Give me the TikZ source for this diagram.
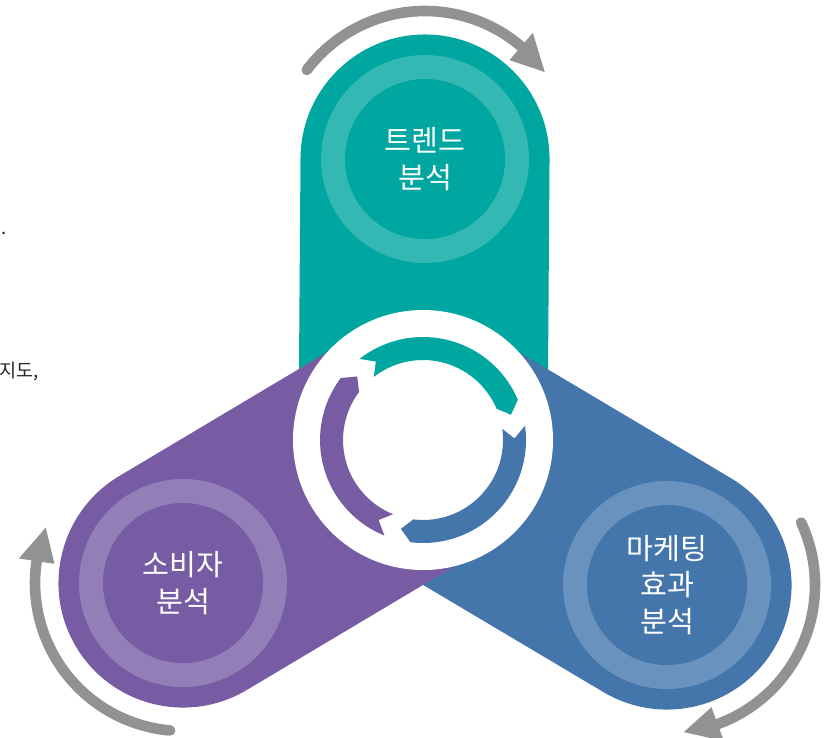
\documentclass[tikz,border=0pt]{standalone}
\usepackage{xcolor}
\usepackage{fontspec}
\setmainfont{Noto Sans CJK KR}
\usepackage{tikz}

\definecolor{trendcol}{HTML}{00A6A0}
\definecolor{trendlight}{HTML}{33B8B3}
\definecolor{consumercol}{HTML}{775CA4}
\definecolor{consumerlight}{HTML}{927FB8}
\definecolor{marketcol}{HTML}{4576AB}
\definecolor{marketlight}{HTML}{6A92BF}
\definecolor{cyclegray}{HTML}{929292}

\begin{document}
\begin{tikzpicture}[scale=0.2646]
\tikzstyle{every node}+=[inner sep=0pt]
\tikzstyle{arm}=[line width=187.5pt, line cap=round]
\tikzstyle{hub label}=[text=white, align=center, font=\fontsize{22}{27.5}\selectfont]
\tikzstyle{side text}=[text=black!85, font=\fontsize{14}{17}\selectfont]
\tikzstyle{cycle arrow}=[cyclegray, line width=8pt, line cap=round]
\useasboundingbox (0,0) rectangle (82.6,-73.8);
% centres
\coordinate (hub) at (42.3,-44.0);
\coordinate (trend) at (42.5,-15.9);
\coordinate (consumer) at (18.3,-58.3);
\coordinate (market) at (66.7,-58.5);
% arms
\draw [arm, trendcol] (hub) -- (trend);
\draw [arm, marketcol] (hub) -- (market);
\draw [arm, consumercol] (hub) -- (consumer);
% rings
\fill [trendlight] (trend) circle (10.4);
\fill [trendcol] (trend) circle (8.0);
\fill [consumerlight] (consumer) circle (10.4);
\fill [consumercol] (consumer) circle (8.0);
\fill [marketlight] (market) circle (10.4);
\fill [marketcol] (market) circle (8.0);
% hub
\fill [white] (hub) circle (13.0);
\begin{scope}[shift={(hub)}]
\fill [trendcol] (128:10.3) arc [start angle=128, end angle=23, radius=10.3] -- (16:9.15) -- (23:8.0) arc [start angle=23, end angle=128, radius=8.0] -- (121:9.15) -- cycle;
\fill [marketcol] (8:10.3) arc [start angle=8, end angle=-97, radius=10.3] -- (-104:9.15) -- (-97:8.0) arc [start angle=-97, end angle=8, radius=8.0] -- (1:9.15) -- cycle;
\fill [consumercol] (248:10.3) arc [start angle=248, end angle=143, radius=10.3] -- (136:9.15) -- (143:8.0) arc [start angle=143, end angle=248, radius=8.0] -- (241:9.15) -- cycle;
\end{scope}
% outer arrows
\begin{scope}[shift={(trend)}]
\draw [cycle arrow] (143:14.8) arc [start angle=143, end angle=49.5, radius=14.8];
\fill [cyclegray] (49.5:16.6) -- (36:14.8) -- (49.5:13.0) -- cycle;
\end{scope}
\begin{scope}[shift={(consumer)}]
\draw [cycle arrow] (265:14.8) arc [start angle=265, end angle=171.5, radius=14.8];
\fill [cyclegray] (171.5:16.6) -- (158:14.8) -- (171.5:13.0) -- cycle;
\end{scope}
\begin{scope}[shift={(market)}]
\draw [cycle arrow] (25:14.8) arc [start angle=25, end angle=-70, radius=14.8];
\fill [cyclegray] (-70:16.6) -- (-83.5:14.8) -- (-70:13.0) -- cycle;
\end{scope}
% labels
\node [hub label] (trendtxt) at (trend) {트렌드\\분석};
\node [hub label] (consumertxt) at (consumer) {소비자\\분석};
\node [hub label] (markettxt) at (market) {마케팅\\효과\\분석};
\node [side text, anchor=west] (cutline) at (-0.1,-37.2) {지도,};
\node [side text, anchor=base west] (cutdot) at (0.15,-23.4) {.};
\end{tikzpicture}
\end{document}
